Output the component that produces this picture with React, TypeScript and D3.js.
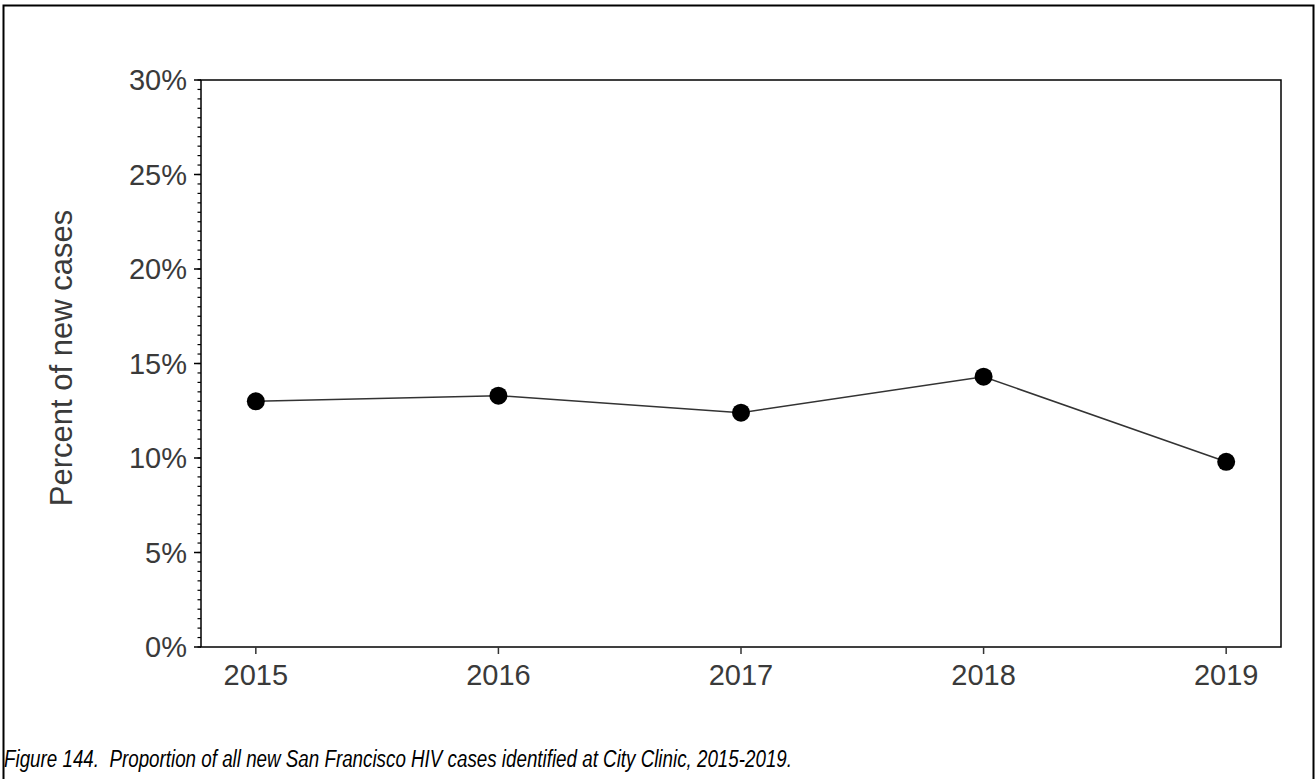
import React from "react";
import * as d3 from "d3";

const years: string[] = ["2015", "2016", "2017", "2018", "2019"];
const percentValues: number[] = [13.0, 13.3, 12.4, 14.3, 9.8];
const yTickValues: number[] = [0, 5, 10, 15, 20, 25, 30];
const yAxisTitle = "Percent of new cases";
const captionText =
  "Figure 144.  Proportion of all new San Francisco HIV cases identified at City Clinic, 2015-2019.";

const W = 1316;
const H = 779;
const plot = { left: 201, right: 1281, top: 80, bottom: 647 };
const FONT = "'Liberation Sans', Arial, Helvetica, sans-serif";
const CAPTION_FONT = "'Liberation Sans Narrow', 'Arial Narrow', 'Liberation Sans', Arial, sans-serif";

export default function App() {
  const x = d3
    .scalePoint<string>()
    .domain(years)
    .range([plot.left, plot.right])
    .padding(0.226);
  const y = d3.scaleLinear().domain([0, 30]).range([plot.bottom, plot.top]);
  const minorTicks = d3.range(0, 30.001, 0.5);

  const line = d3
    .line<number>()
    .x((_, i) => x(years[i]) as number)
    .y((d) => y(d));

  return (
    <div style={{ position: "absolute", left: 0, top: 0 }}>
      <svg width={W} height={H} style={{ display: "block", background: "#fff" }}>
        {/* outer frame (top, left, right) */}
        <path
          d={`M3.5,${H} L3.5,5.5 L1313.5,5.5 L1313.5,${H}`}
          fill="none"
          stroke="#000"
          strokeWidth={2}
        />
        {/* plot box */}
        <rect
          x={plot.left}
          y={plot.top}
          width={plot.right - plot.left}
          height={plot.bottom - plot.top}
          fill="none"
          stroke="#000"
          strokeWidth={1.5}
        />
        {/* minor y ticks */}
        {minorTicks.map((t) => (
          <line
            key={"m" + t}
            x1={plot.left - 3.5}
            x2={plot.left}
            y1={y(t)}
            y2={y(t)}
            stroke="#000"
            strokeWidth={1.2}
          />
        ))}
        {/* major y ticks and labels */}
        {yTickValues.map((t) => (
          <g key={"y" + t}>
            <line
              x1={plot.left - 7}
              x2={plot.left}
              y1={y(t)}
              y2={y(t)}
              stroke="#000"
              strokeWidth={1.5}
            />
            <text
              x={187}
              y={y(t)}
              dy="0.36em"
              textAnchor="end"
              fontFamily={FONT}
              fontSize={29}
              fill="#3a3a3a"
            >
              {t + "%"}
            </text>
          </g>
        ))}
        {/* x ticks and labels */}
        {years.map((yr) => (
          <g key={"x" + yr}>
            <line
              x1={x(yr)}
              x2={x(yr)}
              y1={plot.bottom}
              y2={plot.bottom + 7}
              stroke="#333"
              strokeWidth={1.5}
            />
            <text
              x={x(yr)}
              y={685}
              textAnchor="middle"
              fontFamily={FONT}
              fontSize={29}
              fill="#3a3a3a"
            >
              {yr}
            </text>
          </g>
        ))}
        {/* y axis title */}
        <text
          transform={`translate(72,358) rotate(-90)`}
          textAnchor="middle"
          fontFamily={FONT}
          fontSize={31}
          fill="#3a3a3a"
        >
          {yAxisTitle}
        </text>
        {/* data line */}
        <path
          d={line(percentValues) || ""}
          fill="none"
          stroke="#333"
          strokeWidth={1.5}
        />
        {percentValues.map((v, i) => (
          <circle key={"p" + i} cx={x(years[i])} cy={y(v)} r={9} fill="#000" />
        ))}
        {/* caption */}
        <text
          x={4}
          y={767}
          fontFamily={CAPTION_FONT}
          fontStyle="italic"
          fontSize={23}
          fill="#000"
          textLength={788}
          lengthAdjust="spacingAndGlyphs"
          style={{ whiteSpace: "pre" }}
          xmlSpace="preserve"
        >
          {captionText}
        </text>
      </svg>
    </div>
  );
}
